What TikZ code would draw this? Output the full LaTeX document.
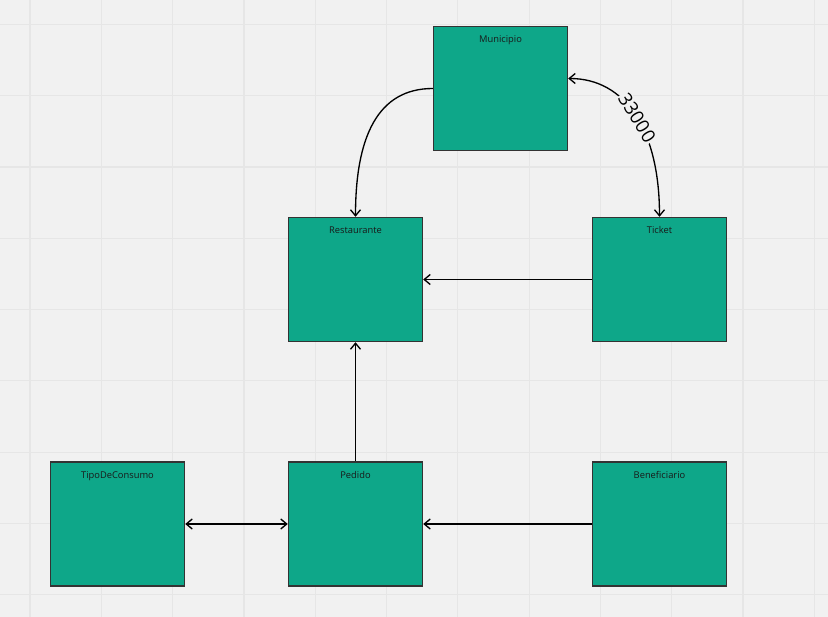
\documentclass[tikz,border=0pt]{standalone}
\usepackage{fontspec}
\setmainfont{Open Sans}
\usetikzlibrary{arrows.meta}
\definecolor{bgcol}{HTML}{F1F1F1}
\definecolor{gridcol}{HTML}{E6E6E6}
\definecolor{tealbox}{HTML}{0EA789}
\definecolor{boxline}{HTML}{333333}
\begin{document}
\begin{tikzpicture}[x=0.75pt, y=-0.75pt,
    >={Straight Barb[length=4.5pt, width=7.5pt]},
    entity/.style={draw=boxline, line width=1.1pt, fill=tealbox,
      minimum width=100.5pt, minimum height=93pt, inner sep=0pt},
    lbl/.style={anchor=north, yshift=-4pt, font=\fontsize{7}{8}\selectfont, text=black!90},
    link/.style={->, line width=1pt, black}]
  % fondo y cuadricula
  \fill[bgcol] (0,0) rectangle (828,617);
  \useasboundingbox (0,0) rectangle (828,617);
  \foreach \gx in {0,...,11}{
    \draw[gridcol, line width=0.9pt] (30+71.3*\gx,0) -- (30+71.3*\gx,617);
  }
  \foreach \gy in {0,...,8}{
    \draw[gridcol, line width=0.9pt] (0,24.3+71.3*\gy) -- (828,24.3+71.3*\gy);
  }
  % entidades
  \node[entity, label={[lbl]north:Municipio}] (muni) at (500.5,88.5) {};
  \node[entity, label={[lbl]north:Restaurante}] (rest) at (355.5,279.5) {};
  \node[entity, label={[lbl]north:Ticket}] (ticket) at (659.5,279.5) {};
  \node[entity, label={[lbl]north:TipoDeConsumo}] (tipo) at (117.5,524) {};
  \node[entity, label={[lbl]north:Pedido}] (pedido) at (355.5,524) {};
  \node[entity, label={[lbl]north:Beneficiario}] (benef) at (659.5,524) {};
  % relaciones
  \draw[link] (muni.west) .. controls +(-55,0) and +(0,-80) .. (rest.north);
  \draw[link, <->] ([yshift=7.5pt]muni.east) .. controls +(57,0) and +(0,-87) .. (ticket.north)
    node[pos=0.52, sloped, fill=bgcol, inner sep=1pt, font=\fontsize{14}{16}\selectfont] (card) {33000};
  \draw[link] (ticket) -- (rest);
  \draw[link] (pedido) -- (rest);
  \draw[link, <->] (tipo) -- (pedido);
  \draw[link] (benef) -- (pedido);
\end{tikzpicture}
\end{document}
